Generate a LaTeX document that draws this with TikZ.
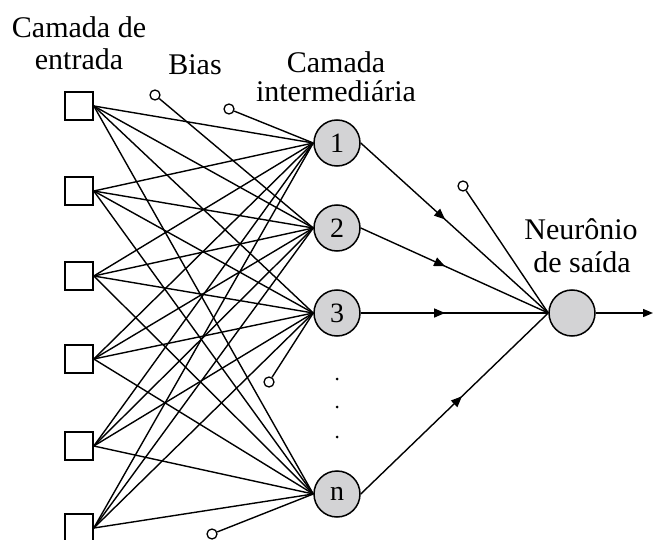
\documentclass[tikz,border=0pt]{standalone}
\usepackage{fontspec}
\setmainfont{Liberation Serif}
\usetikzlibrary{arrows.meta,decorations.markings}
\definecolor{nfill}{RGB}{211,211,213}
\begin{document}
\begin{tikzpicture}[x=1pt,y=-1pt,
  inbox/.style={draw,line width=1.6pt,minimum size=28pt,inner sep=0pt},
  hid/.style={circle,draw,line width=1.5pt,fill=nfill,minimum size=46pt,inner sep=0pt,font=\fontsize{28}{28}\selectfont},
  biasc/.style={circle,draw,line width=1.3pt,fill=white,minimum size=10pt,inner sep=0pt},
  dotn/.style={circle,fill,inner sep=0pt,minimum size=3pt},
  conn/.style={line width=1.4pt},
  lbl/.style={font=\fontsize{30}{32}\selectfont,anchor=base,inner sep=0pt},
  midarrow/.style={conn,postaction={decorate},decoration={markings,mark=at position #1 with {\arrow{Triangle[length=11pt,width=9pt]}}}}
]
\useasboundingbox (0,0) rectangle (653,540);

% labels
\node[lbl] (t1) at (79,38) {Camada de};
\node[lbl] (t2) at (79,70) {entrada};
\node[lbl] (t3) at (195,75) {Bias};
\node[lbl] (t4) at (336,73) {Camada};
\node[lbl] (t5) at (336,102) {intermediária};
\node[lbl] (t6) at (581,240) {Neurônio};
\node[lbl] (t7) at (582,272) {de saída};

% input layer
\node[inbox] (i1) at (79,106) {};
\node[inbox] (i2) at (79,191) {};
\node[inbox] (i3) at (79,276) {};
\node[inbox] (i4) at (79,359) {};
\node[inbox] (i5) at (79,446) {};
\node[inbox] (i6) at (79,528) {};

% hidden layer
\node[hid] (h1) at (337,143) {1};
\node[hid] (h2) at (337,228) {2};
\node[hid] (h3) at (337,313) {3};
\node[hid] (hn) at (337,494) {n};

\node[dotn] (d1) at (337,379) {};
\node[dotn] (d2) at (337,407) {};
\node[dotn] (d3) at (337,437) {};

% output neuron
\node[hid] (o) at (572,313) {};
\coordinate (oend) at (653,313);

% bias circles
\node[biasc] (b1) at (155,95) {};
\node[biasc] (b2) at (229,109) {};
\node[biasc] (b3) at (269,382) {};
\node[biasc] (b4) at (212,534) {};
\node[biasc] (b5) at (463,186) {};

% input -> hidden
\foreach \i in {i1,i2,i3,i4,i5,i6}
  \foreach \h in {h1,h2,h3,hn}
    \draw[conn] (\i.east) -- (\h.west);

% bias -> hidden
\draw[conn] (b1) -- (h2.west);
\draw[conn] (b2) -- (h1.west);
\draw[conn] (b3) -- (h3.west);
\draw[conn] (b4) -- (hn.west);
\draw[conn] (b5) -- (o.west);

% hidden -> output
\draw[midarrow=0.45] (h1.east) -- (o.west);
\draw[midarrow=0.45] (h2.east) -- (o.west);
\draw[midarrow=0.45] (h3.east) -- (o.west);
\draw[midarrow=0.54] (hn.east) -- (o.west);

\draw[conn,-{Triangle[length=10pt,width=8pt]}] (o.east) -- (oend);
\end{tikzpicture}
\end{document}
